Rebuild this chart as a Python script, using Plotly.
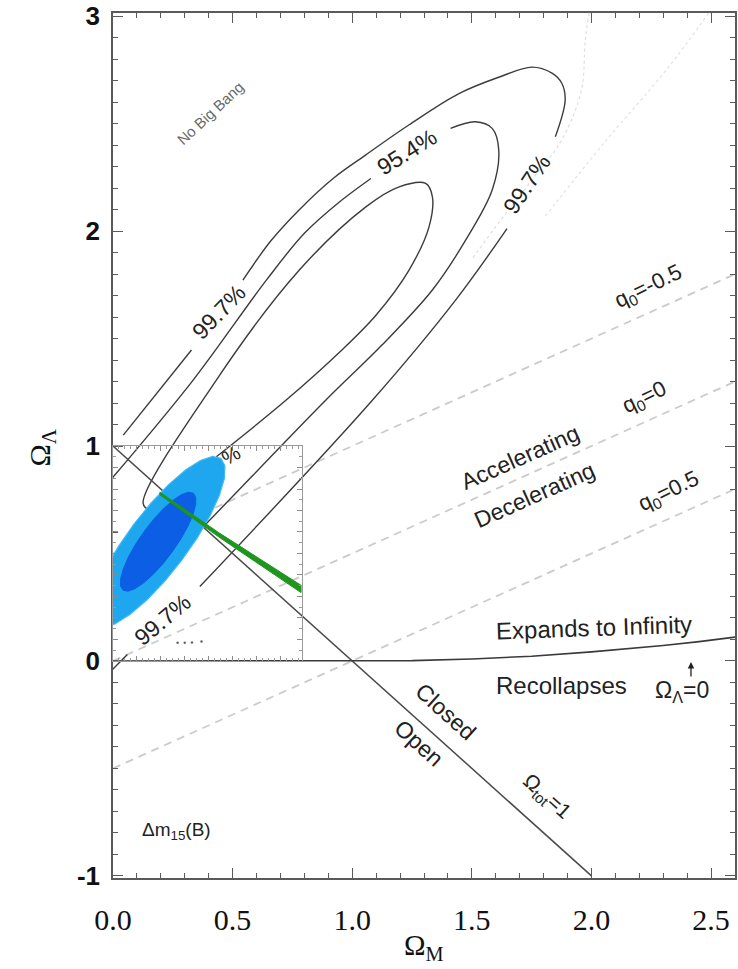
import plotly.graph_objects as go

# ---------------- axes ----------------
X_RANGE = [0.0, 2.6]
Y_RANGE = [-1.01, 3.015]
X_TICKS = [0.0, 0.5, 1.0, 1.5, 2.0, 2.5]
X_TICK_LABELS = ["0.0", "0.5", "1.0", "1.5", "2.0", "2.5"]
Y_TICKS = [-1, 0, 1, 2, 3]
Y_TICK_LABELS = ["<b>-1</b>", "<b>0</b>", "<b>1</b>", "<b>2</b>", "<b>3</b>"]
INSET_X = [0.0, 0.79]
INSET_Y = [0.0, 1.0]

# ---------------- grey confidence contours (Omega_M, Omega_Lambda) ----------------
# 99.7% (outer)
A_OM = [0.043, 0.328, None, 0.543, 0.66, 0.779, 0.92, 1.057, 1.238, 1.446, 1.612, 1.751, 1.835, 1.876, 1.890, 1.849,
        None, 1.647, 1.432, 1.085, 0.363, None, 0.06, -0.02]
A_OL = [1.051, 1.447, None, 1.772, 1.955, 2.10, 2.245, 2.355, 2.495, 2.640, 2.716, 2.763, 2.735, 2.688, 2.609, 2.439,
        None, 2.012, 1.679, 1.214, 0.346, None, 0.03, -0.06]
# 95.4%
B_OM = [-0.01, 0.335, 0.641, 0.80, 0.94, 1.078, None, 1.411, 1.515, 1.585, 1.6125, 1.585, 1.474, 1.335, 1.12, 0.890,
        0.418, 0.25, 0.0]
B_OL = [0.842, 1.307, 1.772, 1.99, 2.13, 2.245, None, 2.478, 2.509, 2.478, 2.377, 2.191, 1.958, 1.726, 1.465, 1.214,
        0.671, 0.48, 0.2]
# 68.3% (inner)
C_OM = [0.432, 0.724, 0.95, 1.10, 1.2375, 1.321, 1.335, 1.307, 1.196, 1.057, 0.779, 0.432, 0.126, 0.154, 0.22]
C_OL = [0.95, 1.214, 1.44, 1.61, 1.819, 2.020, 2.160, 2.222, 2.206, 2.113, 1.819, 1.307, 0.733, 0.705, 0.74]

# faint dotted contours
D1_OM = [1.99, 1.974, 1.958, 1.875, 1.75, 1.62, 1.50]
D1_OL = [3.015, 2.888, 2.656, 2.423, 2.237, 2.05, 1.87]
D2_OM = [2.49, 2.32, 2.06, 1.80]
D2_OL = [3.015, 2.76, 2.42, 2.06]
DOTS_OM = [0.27, 0.30, 0.33, 0.37]
DOTS_OL = [0.085, 0.085, 0.086, 0.09]

# deceleration parameter lines q0 (end points)
Q0_VALUES = ["-0.5", "0", "0.5"]
Q0_OM = [[0.0, 2.6], [0.0, 2.6], [0.0, 2.6]]
Q0_OL = [[0.5, 1.8], [0.0, 1.3], [-0.5, 0.8]]

# flat universe line Omega_tot = 1
FLAT_OM = [0.0, 2.0]
FLAT_OL = [1.0, -1.0]

# recollapse boundary
RECOL_OM = [0.0, 1.0, 1.25, 1.5, 1.75, 2.0, 2.15, 2.3, 2.45, 2.6]
RECOL_OL = [0.0, 0.0, 0.0015, 0.009, 0.022, 0.042, 0.056, 0.072, 0.090, 0.111]

# inset: blue contours (traced outlines)
LIGHT_OM = [0.4509, 0.4678, 0.4655, 0.4444, 0.4057, 0.3521, 0.2874, 0.2158, 0.1423, 0.0719, 0.0094, -0.0411,
            -0.0759, -0.0928, -0.0905, -0.0694, -0.0307, 0.0229, 0.0876, 0.1592, 0.2327, 0.3031, 0.3656, 0.4161, 0.4509]
LIGHT_OL = [0.9430, 0.9080, 0.8487, 0.7693, 0.6752, 0.5726, 0.4688, 0.3707, 0.2849, 0.2174, 0.1729, 0.1542,
            0.1626, 0.1976, 0.2569, 0.3362, 0.4304, 0.5330, 0.6368, 0.7349, 0.8207, 0.8881, 0.9327, 0.9514, 0.9430]
DARK_OM = [0.3358, 0.3459, 0.3454, 0.3342, 0.3130, 0.2835, 0.2474, 0.2074, 0.1660, 0.1263, 0.0908, 0.0619,
           0.0418, 0.0316, 0.0321, 0.0433, 0.0645, 0.0940, 0.1301, 0.1701, 0.2115, 0.2513, 0.2867, 0.3156, 0.3358]
DARK_OL = [0.7807, 0.7607, 0.7266, 0.6809, 0.6266, 0.5673, 0.5073, 0.4505, 0.4008, 0.3616, 0.3355, 0.3245,
           0.3291, 0.3491, 0.3832, 0.4288, 0.4832, 0.5424, 0.6025, 0.6593, 0.7090, 0.7482, 0.7742, 0.7853, 0.7807]
# inset: green band
GREEN_OM = [0.196, 0.446, 0.786, 0.786, 0.446, 0.196, 0.196]
GREEN_OL = [0.785, 0.594, 0.352, 0.318, 0.574, 0.773, 0.785]

GREY = "#3c3c3c"
FRAME = "#5a5a5a"
SANS = "Liberation Sans, Arial, sans-serif"
SERIF = "Liberation Serif, Times New Roman, serif"

fig = go.Figure()

def line(xs, ys, color, width, dash="solid", shape="spline"):
    fig.add_trace(go.Scatter(x=xs, y=ys, mode="lines", hoverinfo="skip", showlegend=False,
                             connectgaps=False,
                             line=dict(color=color, width=width, dash=dash, shape=shape, smoothing=1.0)))

# q0 dashed lines
for xs, ys in zip(Q0_OM, Q0_OL):
    line(xs, ys, "#cbcbcb", 1.8, dash="8px,6px", shape="linear")

# faint dotted contours
line(D1_OM, D1_OL, "#dedede", 1.2, dash="dot")
line(D2_OM, D2_OL, "#e2e2e2", 1.2, dash="dot")
fig.add_trace(go.Scatter(x=DOTS_OM, y=DOTS_OL, mode="markers", hoverinfo="skip", showlegend=False,
                         marker=dict(size=2.5, color="#666")))

# grey contours
line(A_OM, A_OL, GREY, 1.4)
line(B_OM, B_OL, GREY, 1.4)
line(C_OM, C_OL, GREY, 1.4)

# physical boundaries
line(FLAT_OM, FLAT_OL, "#4a4a4a", 1.5, shape="linear")
line(RECOL_OM, RECOL_OL, "#3a3a3a", 1.6, shape="linear")

# blue filled contours
fig.add_trace(go.Scatter(x=LIGHT_OM, y=LIGHT_OL, mode="lines", fill="toself", fillcolor="#1ea6ee",
                         line=dict(color="#40bbf3", width=1.2),
                         hoverinfo="skip", showlegend=False))
fig.add_trace(go.Scatter(x=DARK_OM, y=DARK_OL, mode="lines", fill="toself", fillcolor="#0c5fe4",
                         line=dict(color="#0c5fe4", width=1),
                         hoverinfo="skip", showlegend=False))
# green band
fig.add_trace(go.Scatter(x=GREEN_OM, y=GREEN_OL, mode="lines", fill="toself", fillcolor="#1e961e",
                         line=dict(color="#1e961e", width=1),
                         hoverinfo="skip", showlegend=False))

# dummy trace for inset axes
fig.add_trace(go.Scatter(x=[], y=[], xaxis="x2", yaxis="y2", hoverinfo="skip", showlegend=False))

# ---------------- annotations ----------------
def txt(x, y, s, size=22, angle=0, color="#222", font=SANS, xref="x", yref="y"):
    fig.add_annotation(x=x, y=y, xref=xref, yref=yref, text=s, showarrow=False, textangle=angle,
                       font=dict(family=font, size=size, color=color), xanchor="center", yanchor="middle")

txt(0.404, 2.549, "No Big Bang", 15, -43, "#6a6a6a")
txt(1.228, 2.37, "95.4%", 23, -32)
txt(0.442, 1.625, "99.7%", 23, -46)
txt(1.73, 2.22, "99.7%", 23, -56)
txt(2.240, 1.738, "q<sub>0</sub>=-0.5", 22, -26)
txt(2.224, 1.222, "q<sub>0</sub>=0", 22, -26)
txt(2.324, 0.785, "q<sub>0</sub>=0.5", 22, -26)
txt(1.705, 0.947, "Accelerating", 23, -24)
txt(1.761, 0.772, "Decelerating", 23, -24)
txt(2.011, 0.157, "Expands to Infinity", 24, -2)
txt(1.876, -0.112, "Recollapses", 24, 0)
txt(2.379, -0.14, "Ω<sub>Λ</sub>=0", 23, 0)
txt(1.393, -0.236, "Closed", 23, 42)
txt(1.279, -0.381, "Open", 23, 42)
txt(1.814, -0.631, "Ω<sub>tot</sub>=1", 21, 42)
txt(0.265, -0.789, "Δm<sub>15</sub>(B)", 19, 0)
txt(0.206, 0.191, "99.7%", 23, -40)
txt(0.494, 0.958, "%", 20, -30)

# small arrow above the "=" of Omega_Lambda=0
fig.add_annotation(x=2.416, y=-0.005, xref="x", yref="y", ax=0, ay=16, text="", showarrow=True,
                   arrowhead=2, arrowsize=1, arrowwidth=1.3, arrowcolor="#222")

# axis titles
txt(0.5, -0.08, "Ω<sub>M</sub>", 29, 0, "#111", SERIF, "paper", "paper")
txt(-0.1138, 0.498, "Ω<sub>Λ</sub>", 30, -90, "#111", SERIF, "paper", "paper")

# ---------------- layout ----------------
xd = (INSET_X[1] - X_RANGE[0]) / (X_RANGE[1] - X_RANGE[0])
yd0 = (INSET_Y[0] - Y_RANGE[0]) / (Y_RANGE[1] - Y_RANGE[0])
yd1 = (INSET_Y[1] - Y_RANGE[0]) / (Y_RANGE[1] - Y_RANGE[0])

fig.update_layout(
    width=738, height=969,
    margin=dict(l=113, r=1, t=13, b=91),
    paper_bgcolor="white", plot_bgcolor="rgba(0,0,0,0)",
    showlegend=False,
    xaxis=dict(range=X_RANGE, tickvals=X_TICKS, ticktext=X_TICK_LABELS,
               showgrid=False, zeroline=False, showline=True, linecolor=FRAME, linewidth=1.5,
               mirror="ticks", ticks="inside", ticklen=10, tickwidth=1.2, tickcolor=FRAME,
               minor=dict(dtick=0.1, tick0=0, ticks="inside", ticklen=5, tickcolor=FRAME, tickwidth=1),
               tickfont=dict(family=SERIF, size=30, color="#111"), ticklabelstandoff=14),
    yaxis=dict(range=Y_RANGE, tickvals=Y_TICKS, ticktext=Y_TICK_LABELS,
               showgrid=False, zeroline=False, showline=True, linecolor=FRAME, linewidth=1.5,
               mirror="ticks", ticks="inside", ticklen=10, tickwidth=1.2, tickcolor=FRAME,
               minor=dict(dtick=0.1, tick0=0, ticks="inside", ticklen=5, tickcolor=FRAME, tickwidth=1),
               tickfont=dict(family=SANS, size=26, color="#111"), ticklabelstandoff=6),
    xaxis2=dict(domain=[0, xd], range=INSET_X, anchor="y2", showgrid=False, zeroline=False,
                showline=True, linecolor="#9a9a9a", linewidth=1, mirror="ticks",
                ticks="inside", ticklen=5, tickcolor="#8a8a8a", dtick=0.1, tick0=0, showticklabels=False,
                minor=dict(dtick=0.025, ticks="inside", ticklen=3, tickcolor="#9a9a9a")),
    yaxis2=dict(domain=[yd0, yd1], range=INSET_Y, anchor="x2", showgrid=False, zeroline=False,
                showline=True, linecolor="#9a9a9a", linewidth=1, mirror="ticks",
                ticks="inside", ticklen=5, tickcolor="#8a8a8a", dtick=0.1, tick0=0, showticklabels=False,
                minor=dict(dtick=0.05, ticks="inside", ticklen=3, tickcolor="#9a9a9a")),
)

fig.write_html("out.html")
